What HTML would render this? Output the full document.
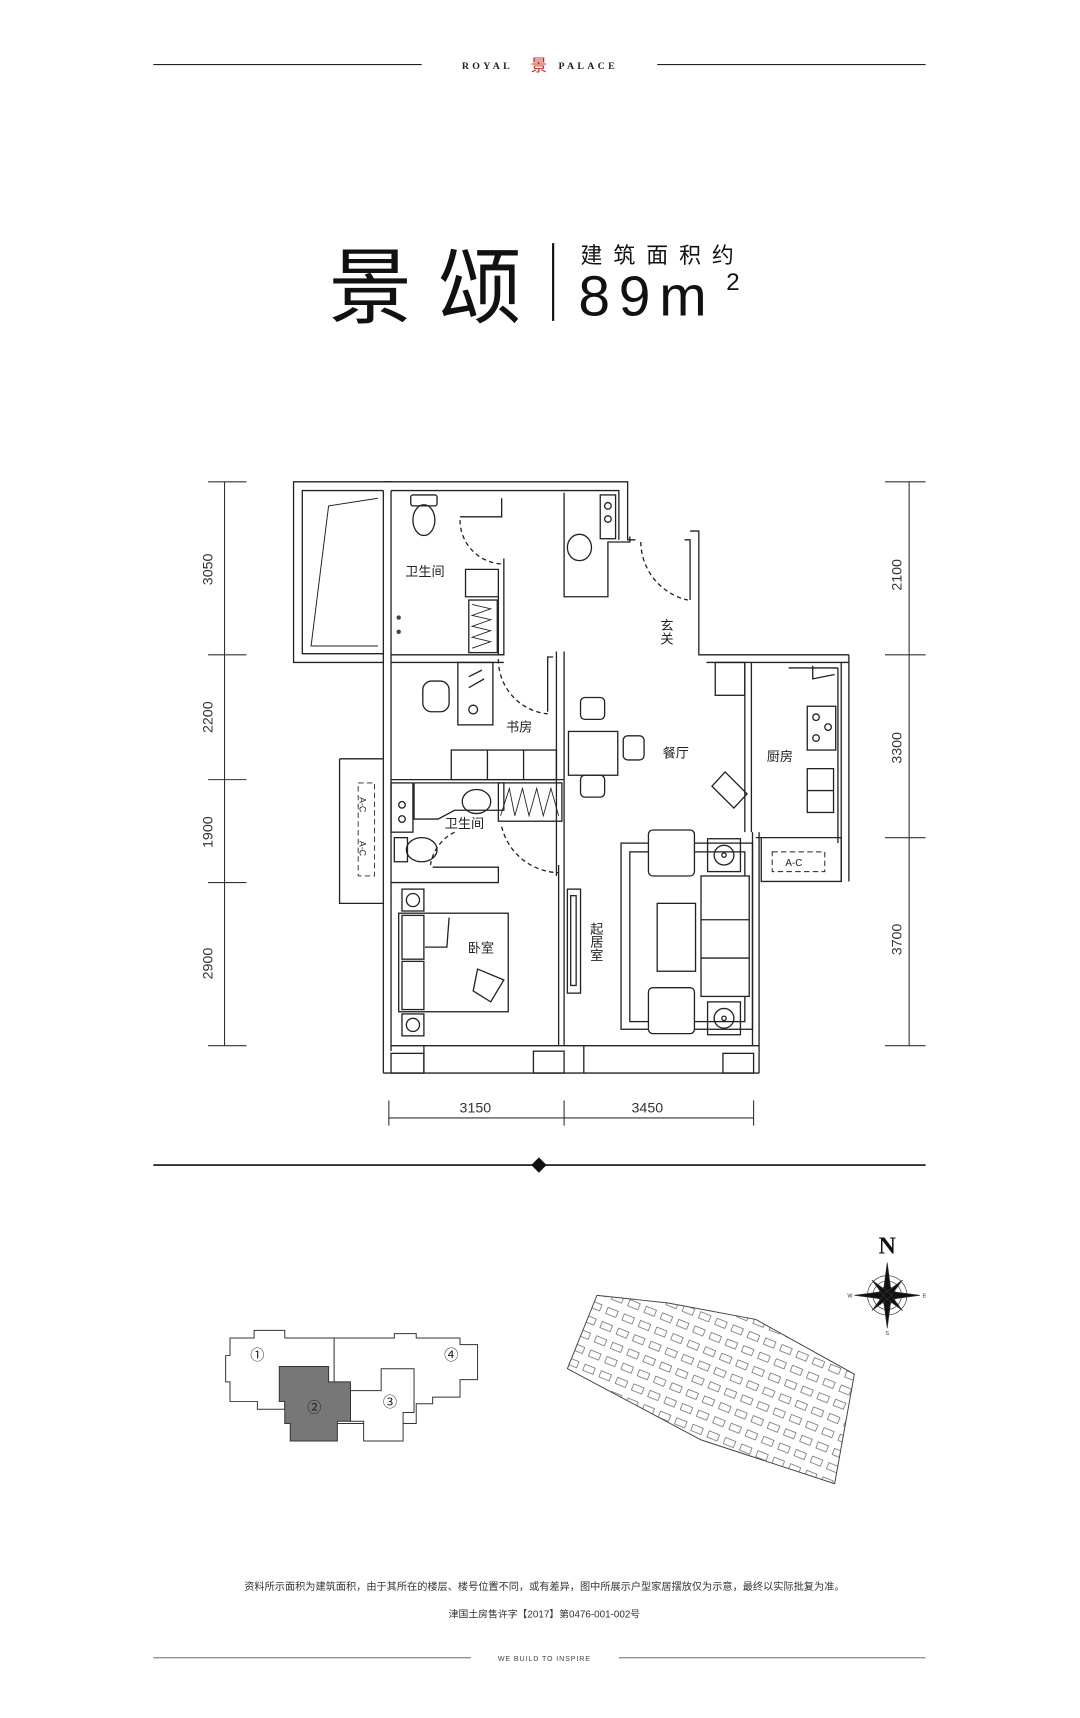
<!DOCTYPE html>
<html><head><meta charset="utf-8"><style>
html,body{margin:0;padding:0;background:#fff}
svg{display:block}
text{font-family:"Liberation Sans","Noto Sans CJK SC",sans-serif}
</style></head><body>
<svg width="1080" height="1718" viewBox="0 0 986 1569" preserveAspectRatio="none" xmlns="http://www.w3.org/2000/svg">
<defs>
<pattern id="blk" width="16" height="14" patternUnits="userSpaceOnUse" patternTransform="rotate(22)">
<rect x="2" y="3" width="10" height="6" fill="none" stroke="#555" stroke-width="0.6"/>
</pattern>
</defs>
<line x1="140" y1="59" x2="385" y2="59" stroke="#222" stroke-width="1"/>
<line x1="600" y1="59" x2="845" y2="59" stroke="#222" stroke-width="1"/>
<text x="445" y="63" font-size="9" letter-spacing="3" text-anchor="middle" fill="#222" style="font-family:'Liberation Serif',serif;font-weight:bold">ROYAL</text>
<text x="492" y="65" font-size="15" text-anchor="middle" fill="#c0281e">景</text>
<text x="537" y="63" font-size="9" letter-spacing="3" text-anchor="middle" fill="#222" style="font-family:'Liberation Serif',serif;font-weight:bold">PALACE</text>
<text x="300" y="289" font-size="76" fill="#111" letter-spacing="24">景颂</text>
<line x1="505" y1="222" x2="505" y2="293" stroke="#111" stroke-width="2"/>
<text x="530" y="240" font-size="20" fill="#111" letter-spacing="10">建筑面积约</text>
<text x="528" y="288" font-size="52" fill="#111" letter-spacing="8">89m</text>
<text x="663" y="265" font-size="22" fill="#111">2</text>

<g fill="none" stroke="#222" stroke-width="1.2">
<polyline points="357,440 268,440 268,605 350,605"/>
<polyline points="350,448 276,448 276,597 350,597"/>
<polyline points="345,455 300,462 284,590 345,590" stroke-width="0.9"/>
<polyline points="350,440 573,440 573,493 580,493"/>
<polyline points="357,448 565,448 565,493"/>
<line x1="350" y1="448" x2="350" y2="693"/>
<line x1="357" y1="448" x2="357" y2="960"/>
<line x1="350" y1="825" x2="350" y2="980"/>
<line x1="357" y1="598" x2="460" y2="598"/>
<line x1="357" y1="605" x2="460" y2="605"/>
<polyline points="420,472 458,472 458,455"/>
<path d="M420,475 A40,40 0 0 0 458,515" stroke-dasharray="4,3"/>
<polyline points="460,510 460,598 455,598 455,520 425,520 425,545 455,545"/>
<rect x="428" y="548" width="26" height="48"/>
<path d="M431,552 L448,556 L431,562 L448,566 L431,572 L448,576 L431,582 L448,586 L431,592" stroke-width="0.8"/>
<rect x="375" y="452" width="24" height="10" rx="2"/>
<ellipse cx="387" cy="475" rx="10" ry="14"/>
<text x="370" y="526" font-size="12" fill="#222" stroke="none">卫生间</text>
<circle cx="364" cy="564" r="2" fill="#444" stroke="none"/>
<circle cx="364" cy="577" r="2" fill="#444" stroke="none"/>
<polyline points="515,450 515,545 555,545 555,495 575,495 575,490"/>
<ellipse cx="529" cy="500" rx="11" ry="12"/>
<rect x="548" y="452" width="14" height="40"/>
<circle cx="555" cy="462" r="3"/><circle cx="555" cy="474" r="3"/>
<path d="M585,495 A55,55 0 0 0 628,548" stroke-dasharray="4,3"/>
<polyline points="630,548 630,493 625,493"/>
<polyline points="630,485 638,485 638,598 775,598"/>
<line x1="645" y1="605" x2="775" y2="605"/>
<text x="608" y="565" font-size="12" fill="#222" stroke="none" writing-mode="tb">玄关</text>
<line x1="768" y1="605" x2="768" y2="805"/>
<line x1="775" y1="598" x2="775" y2="805"/>
<line x1="680" y1="605" x2="680" y2="760"/>
<line x1="686" y1="605" x2="686" y2="760"/>
<rect x="653" y="605" width="27" height="30"/>
<polyline points="742,608 742,620 762,616"/>
<rect x="737" y="645" width="26" height="40"/>
<circle cx="745" cy="655" r="3"/><circle cx="745" cy="674" r="3"/><circle cx="756" cy="664" r="3"/>
<line x1="765" y1="610" x2="765" y2="770"/>
<line x1="720" y1="610" x2="765" y2="610"/>
<rect x="737" y="702" width="24" height="40"/>
<line x1="737" y1="722" x2="761" y2="722"/>
<text x="700" y="695" font-size="12" fill="#222" stroke="none">厨房</text>
<polyline points="690,765 768,765 768,805 695,805 695,765"/>
<rect x="705" y="778" width="48" height="18" stroke-dasharray="5,3" stroke-width="0.9"/>
<text x="717" y="791" font-size="9" fill="#222" stroke="none">A-C</text>
<line x1="508" y1="595" x2="508" y2="800"/>
<line x1="515" y1="595" x2="515" y2="795"/>
<polyline points="505,600 500,600 500,650"/>
<path d="M455,602 A50,50 0 0 0 500,652" stroke-dasharray="4,3"/>
<rect x="386" y="622" width="24" height="28" rx="8"/>
<rect x="418" y="605" width="32" height="57"/>
<line x1="428" y1="618" x2="440" y2="612"/><line x1="428" y1="628" x2="442" y2="620"/>
<circle cx="432" cy="648" r="4"/>
<text x="462" y="668" font-size="12" fill="#222" stroke="none">书房</text>
<rect x="412" y="685" width="96" height="27"/>
<line x1="445" y1="685" x2="445" y2="712"/><line x1="478" y1="685" x2="478" y2="712"/>
<line x1="357" y1="712" x2="515" y2="712"/>
<polyline points="310,693 350,693 350,825 310,825 310,693"/>
<rect x="327" y="715" width="15" height="85" stroke-dasharray="5,3" stroke-width="0.8"/>
<text x="331" y="728" font-size="8" fill="#222" stroke="none" writing-mode="tb">A-C</text>
<text x="331" y="768" font-size="8" fill="#222" stroke="none" writing-mode="tb">A-C</text>
<rect x="357" y="715" width="20" height="45"/>
<circle cx="367" cy="735" r="3"/><circle cx="367" cy="748" r="3"/>
<ellipse cx="435" cy="732" rx="13" ry="11"/>
<polyline points="378,715 378,748 400,748 415,740 460,740 460,715 378,715"/>
<rect x="455" y="715" width="58" height="35"/>
<path d="M457,745 L465,720 L470,745 L477,720 L483,745 L490,720 L496,745 L503,720 L510,745" stroke-width="0.8"/>
<text x="406" y="756" font-size="12" fill="#222" stroke="none">卫生间</text>
<rect x="360" y="765" width="12" height="22"/>
<ellipse cx="385" cy="776" rx="14" ry="11"/>
<path d="M415,760 A40,40 0 0 0 393,790" stroke-dasharray="4,3"/>
<polyline points="395,792 455,792 455,806 357,806"/>
<path d="M458,755 A55,55 0 0 0 510,797" stroke-dasharray="4,3"/>
<rect x="367" y="812" width="20" height="20"/><circle cx="377" cy="822" r="6"/>
<rect x="367" y="926" width="20" height="20"/><circle cx="377" cy="936" r="6"/>
<rect x="364" y="834" width="100" height="90"/>
<rect x="367" y="836" width="20" height="40"/><rect x="367" y="878" width="20" height="44"/>
<polyline points="388,865 408,865 410,838"/>
<path d="M436,885 L460,895 L448,915 L432,905 Z"/>
<text x="427" y="870" font-size="12" fill="#222" stroke="none">卧室</text>
<line x1="515" y1="795" x2="515" y2="955"/>
<line x1="510" y1="790" x2="510" y2="955"/>
<rect x="518" y="812" width="12" height="95"/>
<rect x="521" y="818" width="5" height="82"/>
<text x="544" y="842" font-size="12" fill="#222" stroke="none" writing-mode="tb">起居室</text>
<rect x="519" y="668" width="45" height="40"/>
<rect x="530" y="637" width="22" height="20" rx="4"/>
<rect x="530" y="708" width="22" height="20" rx="4"/>
<rect x="569" y="672" width="19" height="22" rx="4"/>
<text x="605" y="692" font-size="12" fill="#222" stroke="none">餐厅</text>
<path d="M650,718 L662,705 L682,725 L670,738 Z"/>
<rect x="567" y="770" width="120" height="170"/>
<rect x="575" y="778" width="105" height="155"/>
<rect x="592" y="758" width="42" height="42" rx="4" fill="#fff"/>
<rect x="592" y="902" width="42" height="42" rx="4" fill="#fff"/>
<rect x="646" y="766" width="30" height="30"/><circle cx="661" cy="781" r="9"/><circle cx="661" cy="781" r="2"/>
<rect x="646" y="915" width="30" height="30"/><circle cx="661" cy="930" r="9"/><circle cx="661" cy="930" r="2"/>
<rect x="640" y="800" width="44" height="110" fill="#fff"/>
<line x1="640" y1="840" x2="684" y2="840"/><line x1="640" y1="875" x2="684" y2="875"/>
<rect x="600" y="825" width="35" height="62"/>
<line x1="687" y1="760" x2="687" y2="955"/>
<line x1="693" y1="760" x2="693" y2="980"/>
<line x1="357" y1="955" x2="693" y2="955"/>
<polyline points="350,980 693,980"/>
<rect x="357" y="962" width="30" height="18"/>
<line x1="387" y1="955" x2="387" y2="980"/>
<rect x="487" y="960" width="28" height="20"/>
<line x1="533" y1="955" x2="533" y2="980"/>
<rect x="660" y="962" width="28" height="18"/>
</g>

<g stroke="#333" stroke-width="1" fill="none">
<line x1="205" y1="440" x2="205" y2="955"/>
<line x1="190" y1="440" x2="225" y2="440"/><line x1="190" y1="598" x2="225" y2="598"/>
<line x1="190" y1="712" x2="225" y2="712"/><line x1="190" y1="806" x2="225" y2="806"/>
<line x1="190" y1="955" x2="225" y2="955"/>
<line x1="830" y1="440" x2="830" y2="955"/>
<line x1="808" y1="440" x2="845" y2="440"/><line x1="808" y1="598" x2="845" y2="598"/>
<line x1="808" y1="765" x2="845" y2="765"/><line x1="808" y1="955" x2="845" y2="955"/>
<line x1="355" y1="1021" x2="688" y2="1021"/>
<line x1="355" y1="1005" x2="355" y2="1028"/><line x1="515" y1="1005" x2="515" y2="1028"/>
<line x1="688" y1="1005" x2="688" y2="1028"/>
</g>
<g font-size="13" fill="#333">
<text transform="translate(194,520) rotate(-90)" text-anchor="middle">3050</text>
<text transform="translate(194,655) rotate(-90)" text-anchor="middle">2200</text>
<text transform="translate(194,760) rotate(-90)" text-anchor="middle">1900</text>
<text transform="translate(194,880) rotate(-90)" text-anchor="middle">2900</text>
<text transform="translate(823,525) rotate(-90)" text-anchor="middle">2100</text>
<text transform="translate(823,683) rotate(-90)" text-anchor="middle">3300</text>
<text transform="translate(823,858) rotate(-90)" text-anchor="middle">3700</text>
<text x="434" y="1016" text-anchor="middle">3150</text>
<text x="591" y="1016" text-anchor="middle">3450</text>
</g>

<line x1="140" y1="1064" x2="845" y2="1064" stroke="#111" stroke-width="1.5"/>
<path d="M492,1057 L499,1064 L492,1071 L485,1064 Z" fill="#111"/>

<g stroke="#333" stroke-width="0.9" fill="#fff">
<path d="M305,1256 L305,1222 L360,1222 L360,1218 L380,1218 L380,1222 L420,1222 L420,1228 L436,1228 L436,1260 L420,1260 L420,1276 L395,1276 L395,1282 L380,1282 L380,1300 L305,1300 Z"/>
<path d="M210,1222 L232,1222 L232,1215 L260,1215 L260,1222 L305,1222 L305,1280 L260,1280 L260,1287 L235,1287 L235,1280 L210,1280 L210,1262 L206,1262 L206,1238 L210,1238 Z"/>
<path d="M255,1248 L300,1248 L300,1262 L320,1262 L320,1298 L308,1298 L308,1316 L265,1316 L265,1300 L260,1300 L260,1280 L255,1280 Z" fill="#777"/>
<path d="M348,1250 L378,1250 L378,1290 L368,1290 L368,1316 L332,1316 L332,1298 L320,1298 L320,1270 L348,1270 Z"/>
</g>
<g font-size="13" fill="#222" text-anchor="middle">
<text x="235" y="1242">①</text><text x="287" y="1290">②</text><text x="356" y="1285">③</text><text x="412" y="1242">④</text>
</g>
<path d="M545,1183 L610,1190 L690,1205 L780,1255 L762,1355 L640,1315 L518,1250 Z" fill="url(#blk)" stroke="#444" stroke-width="0.9"/>
<text x="810" y="1145" font-size="22" font-weight="bold" text-anchor="middle" fill="#111" style="font-family:'Liberation Serif',serif">N</text>
<g transform="translate(810,1183)" stroke="#333" stroke-width="0.6" fill="none">
<circle r="18"/><circle r="13"/><circle r="8"/>
<path d="M0,-30 L4,0 L0,30 L-4,0 Z M-30,0 L0,-4 L30,0 L0,4 Z" fill="#111"/>
<path d="M-14,-14 L2,-2 L14,14 L-2,2 Z M14,-14 L2,2 L-14,14 L-2,-2 Z" fill="#111"/>
</g>
<g font-size="5" fill="#333" text-anchor="middle"><text x="776" y="1185">W</text><text x="844" y="1185">E</text><text x="810" y="1219">S</text></g>

<text x="497" y="1452" font-size="9.3" fill="#333" text-anchor="middle">资料所示面积为建筑面积，由于其所在的楼层、楼号位置不同，或有差异，图中所展示户型家居摆放仅为示意，最终以实际批复为准。</text>
<text x="497" y="1477" font-size="9" fill="#333" text-anchor="middle">津国土房售许字【2017】第0476-001-002号</text>
<line x1="140" y1="1514" x2="430" y2="1514" stroke="#555" stroke-width="0.8"/>
<line x1="565" y1="1514" x2="845" y2="1514" stroke="#555" stroke-width="0.8"/>
<text x="497" y="1517" font-size="6.5" fill="#444" text-anchor="middle" letter-spacing="0.8">WE BUILD TO INSPIRE</text>
</svg>
</body></html>
